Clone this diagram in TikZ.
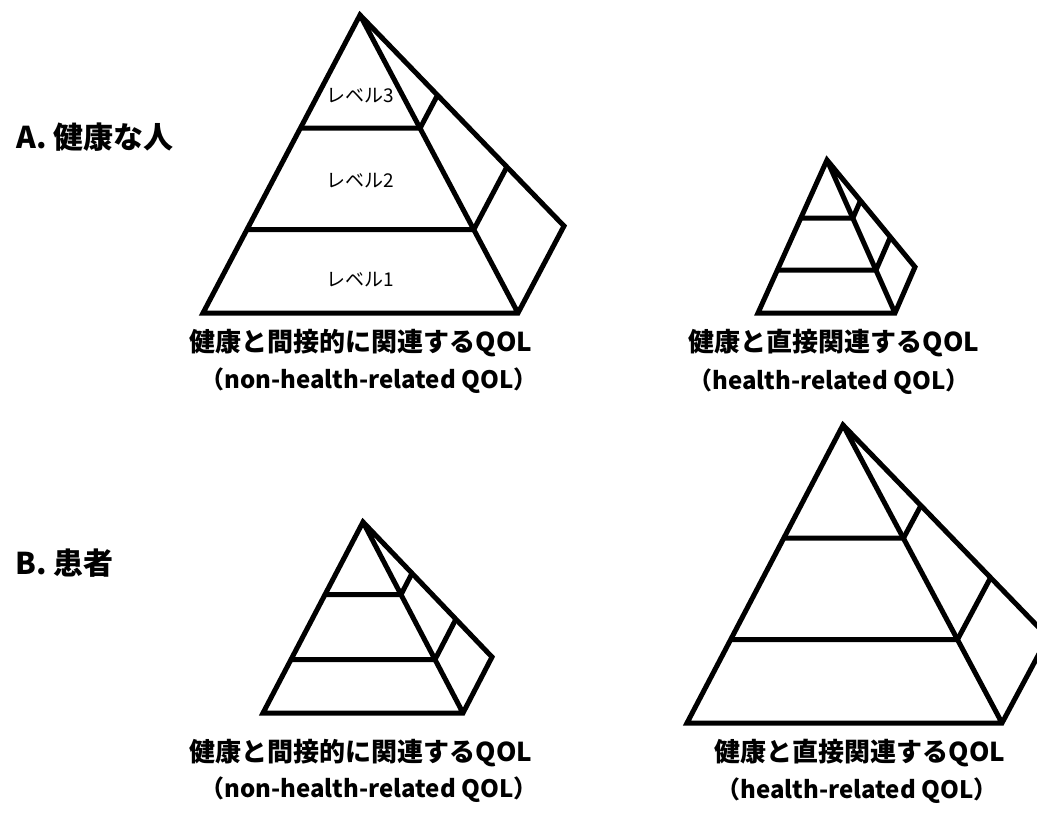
\documentclass[tikz,border=0pt]{standalone}
\usepackage{fontspec}
\setmainfont{Noto Sans CJK JP}
\usetikzlibrary{positioning, calc}

\begin{document}
\begin{tikzpicture}[
    x=1pt, y=-1pt,
    node distance=11pt,
    edge/.style={line width=5pt, line join=miter},
    group/.style={inner sep=0, anchor=west, font=\bfseries\fontsize{30}{34}\selectfont},
    level/.style={inner sep=0, font=\fontsize{19}{22}\selectfont},
    title/.style={inner sep=0, font=\bfseries\fontsize{26}{30}\selectfont},
    subtitle/.style={inner sep=0, font=\bfseries\fontsize{24}{28}\selectfont}
]
    \clip (0,0) rectangle (1037,816);

    % corners: top, front left, front right, back right
    \coordinate (p1-top) at (360,15);  \coordinate (p1-left) at (203,313); \coordinate (p1-right) at (518,313);  \coordinate (p1-back) at (564,226);
    \coordinate (p2-top) at (827,160); \coordinate (p2-left) at (758,313); \coordinate (p2-right) at (895,313);  \coordinate (p2-back) at (915,267);
    \coordinate (p3-top) at (363,522); \coordinate (p3-left) at (263,713); \coordinate (p3-right) at (463,713);  \coordinate (p3-back) at (492,657);
    \coordinate (p4-top) at (843,425); \coordinate (p4-left) at (687,723); \coordinate (p4-right) at (1002,723); \coordinate (p4-back) at (1048,637);

    \draw[edge] (p1-top) -- (p1-left) -- (p1-right) -- (p1-back) -- cycle (p1-top) -- (p1-right);
    \draw[edge] ($(p1-top)!.38!(p1-left)$) -- ($(p1-top)!.38!(p1-right)$) -- ($(p1-top)!.38!(p1-back)$);
    \draw[edge] ($(p1-top)!.72!(p1-left)$) -- ($(p1-top)!.72!(p1-right)$) -- ($(p1-top)!.72!(p1-back)$);

    \draw[edge] (p2-top) -- (p2-left) -- (p2-right) -- (p2-back) -- cycle (p2-top) -- (p2-right);
    \draw[edge] ($(p2-top)!.38!(p2-left)$) -- ($(p2-top)!.38!(p2-right)$) -- ($(p2-top)!.38!(p2-back)$);
    \draw[edge] ($(p2-top)!.72!(p2-left)$) -- ($(p2-top)!.72!(p2-right)$) -- ($(p2-top)!.72!(p2-back)$);

    \draw[edge] (p3-top) -- (p3-left) -- (p3-right) -- (p3-back) -- cycle (p3-top) -- (p3-right);
    \draw[edge] ($(p3-top)!.38!(p3-left)$) -- ($(p3-top)!.38!(p3-right)$) -- ($(p3-top)!.38!(p3-back)$);
    \draw[edge] ($(p3-top)!.72!(p3-left)$) -- ($(p3-top)!.72!(p3-right)$) -- ($(p3-top)!.72!(p3-back)$);

    \draw[edge] (p4-top) -- (p4-left) -- (p4-right) -- (p4-back) -- cycle (p4-top) -- (p4-right);
    \draw[edge] ($(p4-top)!.38!(p4-left)$) -- ($(p4-top)!.38!(p4-right)$) -- ($(p4-top)!.38!(p4-back)$);
    \draw[edge] ($(p4-top)!.72!(p4-left)$) -- ($(p4-top)!.72!(p4-right)$) -- ($(p4-top)!.72!(p4-back)$);

    \node[level] (lv3) at (360,96) {レベル3};
    \node[level] (lv2) at (360,181) {レベル2};
    \node[level] (lv1) at (360,280) {レベル1};

    \node[group] (grpA) at (16,137) {A. 健康な人};
    \node[group] (grpB) at (15,563) {B. 患者};

    \node[title] (capA1) at (361,343) {健康と間接的に関連するQOL};
    \node[subtitle, below=of capA1, xshift=8pt] (subA1) {（non-health-related QOL）};
    \node[title] (capA2) at (834,343) {健康と直接関連するQOL};
    \node[subtitle, below=of capA2, xshift=-5pt] (subA2) {（health-related QOL）};
    \node[title] (capB1) at (361,753) {健康と間接的に関連するQOL};
    \node[subtitle, below=10pt of capB1, xshift=8pt] (subB1) {（non-health-related QOL）};
    \node[title] (capB2) at (860,753) {健康と直接関連するQOL};
    \node[subtitle, below=10pt of capB2, xshift=-3pt] (subB2) {（health-related QOL）};
\end{tikzpicture}
\end{document}
